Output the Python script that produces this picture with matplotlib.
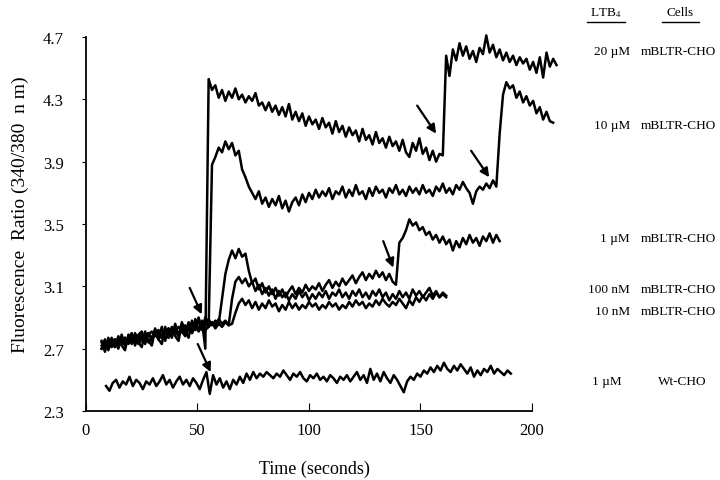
import matplotlib.pyplot as plt
import numpy as np
from matplotlib.lines import Line2D

# sampling of the traces (seconds)
t0 = 7.0
t0_wt = 9.0
dt = 1.5

# 20 uM LTB4, mBLTR-CHO
ltb_20uM = [2.70, 2.76, 2.69, 2.77, 2.71, 2.78, 2.72, 2.69, 2.79, 2.73,
            2.80, 2.74, 2.71, 2.81, 2.75, 2.72, 2.82, 2.76, 2.73, 2.84,
            2.77, 2.84, 2.78, 2.75, 2.86, 2.79, 2.87, 2.80, 2.89, 2.82,
            2.88, 2.70,
            4.43, 4.36, 4.39, 4.31, 4.36, 4.29, 4.35, 4.31, 4.37, 4.30,
            4.33, 4.28, 4.32, 4.29, 4.34, 4.26, 4.28, 4.23, 4.28, 4.22,
            4.26, 4.20, 4.25, 4.19, 4.27, 4.17, 4.22, 4.16, 4.21, 4.13,
            4.19, 4.14, 4.17, 4.11, 4.18, 4.12, 4.15, 4.08, 4.16, 4.09,
            4.13, 4.06, 4.12, 4.07, 4.10, 4.03, 4.11, 4.04, 4.07, 4.01,
            4.09, 4.02, 4.05, 3.99, 4.06, 4.00, 4.03, 3.97, 4.04, 3.96,
            3.93, 4.02, 3.97, 4.05, 3.95, 3.99, 3.91, 3.97, 3.90, 3.95,
            3.94, 4.58, 4.45, 4.62, 4.55, 4.66, 4.58, 4.64, 4.56, 4.61,
            4.54, 4.63, 4.59, 4.71, 4.60, 4.65, 4.57, 4.62, 4.55, 4.60,
            4.54, 4.58, 4.52, 4.57, 4.53, 4.56, 4.49, 4.54, 4.47, 4.57,
            4.44, 4.60, 4.51, 4.56, 4.52]

# 10 uM LTB4, mBLTR-CHO
ltb_10uM = [2.75, 2.68, 2.77, 2.71, 2.76, 2.70, 2.79, 2.72, 2.77, 2.80,
            2.72, 2.79, 2.81, 2.73, 2.80, 2.75, 2.83, 2.76, 2.84, 2.75,
            2.83, 2.77, 2.86, 2.78, 2.87, 2.81, 2.77, 2.88, 2.82, 2.90,
            2.82, 2.90, 2.84,
            3.88, 3.93, 3.99, 3.96, 4.03, 3.98, 4.02, 3.94, 3.97, 3.85,
            3.80, 3.74, 3.70, 3.66, 3.71, 3.63, 3.67, 3.61, 3.66, 3.62,
            3.68, 3.60, 3.65, 3.58, 3.64, 3.67, 3.62, 3.69, 3.64, 3.70,
            3.66, 3.72, 3.67, 3.71, 3.68, 3.73, 3.66, 3.71, 3.69, 3.74,
            3.67, 3.72, 3.68, 3.75, 3.69, 3.71, 3.66, 3.73, 3.68, 3.74,
            3.70, 3.72, 3.67, 3.73, 3.70, 3.75, 3.69, 3.72, 3.68, 3.74,
            3.70, 3.73, 3.69, 3.75, 3.70, 3.72, 3.68, 3.74, 3.71, 3.76,
            3.70, 3.73, 3.69, 3.75, 3.72, 3.77, 3.73, 3.70, 3.63, 3.71,
            3.74, 3.72, 3.76, 3.73, 3.78, 3.74, 4.08, 4.33, 4.41, 4.37,
            4.39, 4.31, 4.35, 4.28, 4.32, 4.26, 4.29, 4.21, 4.25, 4.17,
            4.22, 4.16, 4.15]

# 1 uM LTB4, mBLTR-CHO
ltb_1uM = [2.70, 2.73, 2.71, 2.74, 2.76, 2.72, 2.75, 2.77, 2.73, 2.76,
           2.79, 2.75, 2.78, 2.76, 2.80, 2.77, 2.79, 2.82, 2.78, 2.80,
           2.83, 2.79, 2.82, 2.84, 2.81, 2.85, 2.82, 2.86, 2.84, 2.87,
           2.83, 2.86, 2.89, 2.85, 2.88, 2.86,
           3.02, 3.18, 3.27, 3.33, 3.28, 3.34, 3.29, 3.31, 3.20, 3.12,
           3.15, 3.08, 3.12, 3.06, 3.10, 3.05, 3.09, 3.04, 3.08, 3.03,
           3.07, 3.10, 3.05, 3.09, 3.06, 3.11, 3.07, 3.10, 3.08, 3.12,
           3.07, 3.11, 3.14, 3.09, 3.13, 3.10, 3.15, 3.11, 3.14, 3.17,
           3.12, 3.16, 3.19, 3.14, 3.18, 3.15, 3.20, 3.16, 3.19, 3.14,
           3.18, 3.13, 3.11, 3.38, 3.41, 3.46, 3.53, 3.49, 3.51, 3.46,
           3.48, 3.43, 3.45, 3.40, 3.43, 3.38, 3.42, 3.37, 3.40, 3.33,
           3.39, 3.35, 3.41, 3.37, 3.43, 3.38, 3.41, 3.36, 3.42, 3.39,
           3.44, 3.38, 3.43, 3.39]

# 100 nM LTB4, mBLTR-CHO
ltb_100nM = [2.74, 2.71, 2.73, 2.76, 2.72, 2.75, 2.73, 2.77, 2.74, 2.78,
             2.75, 2.77, 2.80, 2.76, 2.79, 2.81, 2.78, 2.80, 2.77, 2.82,
             2.80, 2.83, 2.81, 2.78, 2.84, 2.82, 2.85, 2.83, 2.86, 2.82,
             2.85, 2.88, 2.84, 2.87, 2.85, 2.89, 2.86, 2.88, 2.85,
             3.02, 3.13, 3.16, 3.12, 3.15, 3.10, 3.13, 3.07, 3.11, 3.05,
             3.09, 3.04, 3.08, 3.02, 3.07, 3.03, 3.06, 3.01, 3.05, 3.02,
             3.07, 3.03, 3.06, 3.01, 3.05, 3.02, 3.06, 3.03, 3.07, 3.02,
             3.06, 3.04, 3.08, 3.03, 3.06, 3.02, 3.07, 3.04, 3.08, 3.03,
             3.06, 3.02, 3.07, 3.04, 3.08, 3.03, 3.06, 3.01, 3.05, 3.02,
             3.07, 3.03, 3.06, 3.02, 3.08, 3.04, 3.07, 3.03, 3.06, 3.09,
             3.04, 3.07, 3.03, 3.06, 3.04]

# 10 nM LTB4, mBLTR-CHO
ltb_10nM = [2.72, 2.75, 2.70, 2.73, 2.71, 2.74, 2.77, 2.72, 2.76, 2.74,
            2.77, 2.73, 2.76, 2.79, 2.74, 2.77, 2.80, 2.76, 2.79, 2.81,
            2.77, 2.80, 2.82, 2.79, 2.81, 2.78, 2.83, 2.80, 2.84, 2.81,
            2.85, 2.82, 2.84, 2.87, 2.83, 2.86, 2.84, 2.87, 2.85, 2.86,
            2.93, 2.99, 3.02, 2.98, 3.01, 2.96, 3.00, 2.95, 2.99, 2.96,
            3.01, 2.97, 2.99, 2.94, 2.98, 2.95, 3.00, 2.96, 2.99, 2.95,
            2.98, 2.96, 3.00, 2.97, 2.99, 2.95, 2.98, 2.96, 3.00, 2.97,
            2.99, 2.95, 2.98, 2.96, 3.00, 2.97, 3.01, 2.98, 3.00, 2.96,
            2.99, 2.97, 3.01, 2.98, 3.02, 2.99, 2.97, 3.00, 2.98, 3.02,
            2.99, 2.96, 3.01, 2.98, 3.03, 3.00, 3.04, 3.01, 3.05, 3.02,
            3.06, 3.03, 3.05, 3.03]

# 1 uM LTB4, wild type CHO
wt_1uM = [2.46, 2.43, 2.48, 2.50, 2.45, 2.49, 2.47, 2.52, 2.46, 2.50,
          2.48, 2.44, 2.49, 2.47, 2.51, 2.46, 2.49, 2.53, 2.47, 2.50,
          2.45, 2.49, 2.52, 2.47, 2.50, 2.46, 2.51, 2.48,
          2.44, 2.50, 2.55, 2.41, 2.53, 2.47, 2.51, 2.45, 2.49, 2.44,
          2.50, 2.47, 2.52, 2.48, 2.54, 2.50, 2.55, 2.51,
          2.54, 2.52, 2.55, 2.53, 2.51, 2.54, 2.52, 2.56, 2.53, 2.50,
          2.54, 2.52, 2.55, 2.51, 2.49, 2.53, 2.51, 2.54, 2.50, 2.52,
          2.49, 2.53,
          2.51, 2.48, 2.52, 2.50, 2.53, 2.49, 2.52, 2.55, 2.50, 2.53,
          2.48, 2.57, 2.50, 2.54, 2.49, 2.55, 2.51, 2.48, 2.53, 2.50,
          2.46, 2.42, 2.49,
          2.52, 2.50, 2.54, 2.52, 2.56, 2.54, 2.58, 2.55, 2.59, 2.56,
          2.61, 2.57, 2.55, 2.59, 2.56, 2.60, 2.57, 2.54, 2.58, 2.52,
          2.56, 2.53, 2.57, 2.55, 2.59, 2.54, 2.57, 2.55, 2.53, 2.56,
          2.54]

yticks = [2.3, 2.7, 3.1, 3.5, 3.9, 4.3, 4.7]
xticks = [0, 50, 100, 150, 200]

# right-hand labels
conc = ['20 \u00b5M', '10 \u00b5M', '1 \u00b5M', '100 nM', '10 nM', '1 \u00b5M']
cells = ['mBLTR-CHO', 'mBLTR-CHO', 'mBLTR-CHO', 'mBLTR-CHO', 'mBLTR-CHO', 'Wt-CHO']
label_y = [52, 126, 239, 290, 312, 382]

# arrows marking LTB4 addition (tail -> head)
arrows = [((46.5, 3.09), (51.9, 2.92)),
          ((50.1, 2.73), (55.9, 2.55)),
          ((133.3, 3.39), (137.8, 3.22)),
          ((148.5, 4.26), (157.0, 4.08)),
          ((172.7, 3.97), (180.8, 3.80))]

plt.rcParams['font.family'] = ['Liberation Serif', 'DejaVu Serif']
plt.rcParams['mathtext.fontset'] = 'stix'

W, H = 720, 481
fig = plt.figure(figsize=(7.2, 4.81), dpi=100)
ax = fig.add_axes([86 / W, 69 / H, 215 * 2.23 / W, 374 / H])

for vals, start in [(ltb_10nM, t0), (ltb_100nM, t0), (ltb_1uM, t0),
                    (ltb_10uM, t0), (ltb_20uM, t0), (wt_1uM, t0_wt)]:
    tt = start + dt * np.arange(len(vals))
    ax.plot(tt, vals, color='black', lw=1.8, clip_on=False)

for tail, head in arrows:
    ax.annotate('', xy=head, xytext=tail,
                arrowprops=dict(arrowstyle='-|>', color='black', lw=1.6,
                                mutation_scale=13, shrinkA=0, shrinkB=0))

ax.set_xlim(0, 215)
ax.set_ylim(2.3, 4.7)
ax.spines['top'].set_visible(False)
ax.spines['right'].set_visible(False)
ax.spines['bottom'].set_bounds(0, 200)
ax.spines['left'].set_linewidth(1.3)
ax.spines['bottom'].set_linewidth(1.3)

ax.set_xticks(xticks)
ax.set_xticklabels([str(x) for x in xticks])
ax.set_yticks(yticks)
ax.set_yticklabels(['%.1f' % y for y in yticks])
ax.tick_params(axis='x', direction='in', length=6, width=0.8, pad=8, labelsize=12)
ax.tick_params(axis='y', direction='out', length=3, width=0.8, pad=13, labelsize=12)

fig.text(20 / W, 1 - 215 / H, 'Fluorescence  Ratio (340/380  n m)',
         rotation=90, ha='center', va='center', fontsize=14)
fig.text(314 / W, 1 - 469 / H, 'Time (seconds)', ha='center', va='center', fontsize=13)

# column headers
fig.text(606 / W, 1 - 13 / H, r'LTB$_4$', ha='center', va='center', fontsize=9.5)
fig.text(680 / W, 1 - 13 / H, 'Cells', ha='center', va='center', fontsize=9.5)
fig.add_artist(Line2D([587 / W, 625 / W], [1 - 23 / H] * 2, color='black', lw=1))
fig.add_artist(Line2D([662 / W, 699 / W], [1 - 23 / H] * 2, color='black', lw=1))

for c, cl, y in zip(conc, cells, label_y):
    if cl == 'Wt-CHO':
        fig.text(622 / W, 1 - y / H, c, ha='right', va='center', fontsize=9.5)
        fig.text(682 / W, 1 - y / H, cl, ha='center', va='center', fontsize=9.5)
    else:
        fig.text(630 / W, 1 - y / H, c, ha='right', va='center', fontsize=9.5)
        fig.text(641 / W, 1 - y / H, cl, ha='left', va='center', fontsize=9.5)

fig.savefig('out.png', dpi=100)
